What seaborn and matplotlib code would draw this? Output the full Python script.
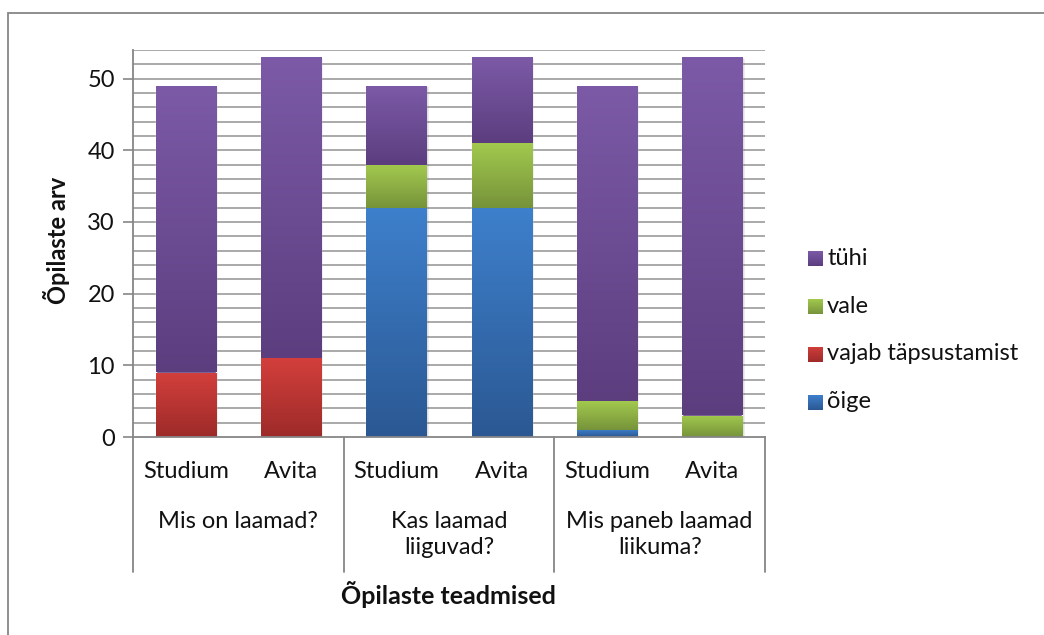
import numpy as np
import pandas as pd
import matplotlib
matplotlib.use("Agg")
import matplotlib.pyplot as plt
import matplotlib.colors as mcolors
from matplotlib.patches import Rectangle
import seaborn as sns

# Question groups and textbooks
questions = ["Mis on laamad?", "Kas laamad\nliiguvad?", "Mis paneb laamad\nliikuma?"]
books = ["Studium", "Avita"]

# Answer counts per bar (Studium, Avita for each question in turn)
oige = [0, 0, 32, 32, 1, 0]
vajab = [9, 11, 0, 0, 0, 0]
vale = [0, 0, 6, 9, 4, 3]
tyhi = [40, 42, 11, 12, 44, 50]

series_names = ["õige", "vajab täpsustamist", "vale", "tühi"]
series_values = [oige, vajab, vale, tyhi]
# (top, bottom) gradient colours for each series
series_colors = [("#3e80cc", "#2b5893"),
                 ("#d33f3c", "#9d2b29"),
                 ("#a2c94e", "#76933a"),
                 ("#7c5aa7", "#5c3e7f")]

bar_keys = [f"{q}|{b}" for q in questions for b in books]
rows = []
for name, vals in zip(series_names, series_values):
    for key, v in zip(bar_keys, vals):
        rows.append({"bar": key, "series": name, "count": v})
df = pd.DataFrame(rows)

sns.set_theme(style="white")
plt.rcParams["font.family"] = ["Lato", "DejaVu Sans"]

W, H = 1044, 635
TXT = "#111111"
fig = plt.figure(figsize=(W / 100, H / 100), dpi=100)
ax = fig.add_axes([133 / W, 1 - 437 / H, (765 - 133) / W, (437 - 50) / H])

bottom = np.zeros(len(bar_keys))
for name, (c_top, c_bot) in zip(series_names, series_colors):
    sub = df[df["series"] == name].set_index("bar").loc[bar_keys].reset_index()
    n_before = len(ax.patches)
    sns.barplot(data=sub, x="bar", y="count", order=bar_keys, color=c_bot,
                bottom=bottom, width=0.57, ax=ax, saturation=1, zorder=3)
    # vertical gradient inside every segment of this series
    cmap = mcolors.LinearSegmentedColormap.from_list(name, [c_bot, c_top])
    grad = np.linspace(0, 1, 256).reshape(-1, 1)
    for p in ax.patches[n_before:]:
        h = p.get_height()
        if h <= 0:
            continue
        x0, y0, w = p.get_x(), p.get_y(), p.get_width()
        # soft shadow to the lower right
        for k, a in [(0.035, 0.07), (0.022, 0.09), (0.011, 0.1)]:
            ax.add_patch(Rectangle((x0 + k * 0.6, y0 - k * 6), w, h, facecolor="black",
                                   alpha=a, edgecolor="none", zorder=2))
        im = ax.imshow(grad, extent=(x0, x0 + w, y0, y0 + h), origin="lower",
                       aspect="auto", cmap=cmap, zorder=4, interpolation="bilinear")
        im.set_clip_path(p)
    bottom = bottom + np.array(sub["count"], dtype=float)

ax.set_xlim(-0.5, len(bar_keys) - 0.5)
ax.set_ylim(0, 54)

# grid lines every 2 units, labels every 10
ax.set_yticks(range(0, 51, 10))
ax.set_yticks(range(0, 55, 2), minor=True)
ax.grid(False)
for yv in range(2, 55, 2):
    ax.axhline(yv, color="#a9a9a9", lw=1.4, zorder=1)
ax.tick_params(axis="y", which="major", length=7, width=1.2, color="#868686",
               labelsize=17, pad=6, left=True)
ax.tick_params(axis="y", which="minor", length=0)
for lab in ax.get_yticklabels():
    lab.set_color(TXT)

ax.set_xticks([])
ax.set_xlabel("")
ax.set_ylabel("")
fig.text(56 / W, 1 - 240 / H, "Õpilaste arv", rotation=90, ha="center",
         va="center", fontsize=17, fontweight="bold", color=TXT)
for s in ["top", "right"]:
    ax.spines[s].set_visible(False)
for s in ["left", "bottom"]:
    ax.spines[s].set_color("#868686")
    ax.spines[s].set_linewidth(1.3)
    ax.spines[s].set_zorder(5)

# category axis: textbook names, question groups and separators
trans = ax.get_xaxis_transform()
ax_h = 437 - 50
for i, key in enumerate(bar_keys):
    ax.text(i, -35 / ax_h, key.split("|")[1], transform=trans, ha="center",
            va="center", fontsize=17, color=TXT)
for g, q in enumerate(questions):
    for j, line in enumerate(q.split("\n")):
        ax.text(2 * g + 0.5, -(85 + 25 * j) / ax_h, line, transform=trans,
                ha="center", va="center", fontsize=17, color=TXT)
for xs in [-0.5, 1.5, 3.5, 5.5]:
    ax.plot([xs, xs], [0, -135 / ax_h], transform=trans, color="#868686",
            lw=1.3, clip_on=False, zorder=5)

fig.text(448 / W, 1 - 595 / H, "Õpilaste teadmised", ha="center", va="center",
         fontsize=18, fontweight="bold", color=TXT)

# legend, top entry is the last stacked series
leg_y = [258, 306, 354, 402]
for yy, name, (c_top, c_bot) in zip(leg_y, series_names[::-1], series_colors[::-1]):
    sq = 15
    cmap = mcolors.LinearSegmentedColormap.from_list(name + "_leg", [c_bot, c_top])
    lax = fig.add_axes([808 / W, 1 - (yy + sq / 2) / H, sq / W, sq / H])
    lax.imshow(np.linspace(0, 1, 64).reshape(-1, 1), origin="lower", aspect="auto",
               cmap=cmap)
    lax.axis("off")
    fig.text(827 / W, 1 - yy / H, name, ha="left", va="center", fontsize=17,
             color=TXT)

# chart frame (right and bottom edges fall outside the canvas)
fig.add_artist(Rectangle((8 / W, -0.05), 1.1, 1.05 - 13 / H,
                         transform=fig.transFigure, fill=False,
                         edgecolor="#868686", lw=1.3))

fig.savefig("out.png", dpi=100)
